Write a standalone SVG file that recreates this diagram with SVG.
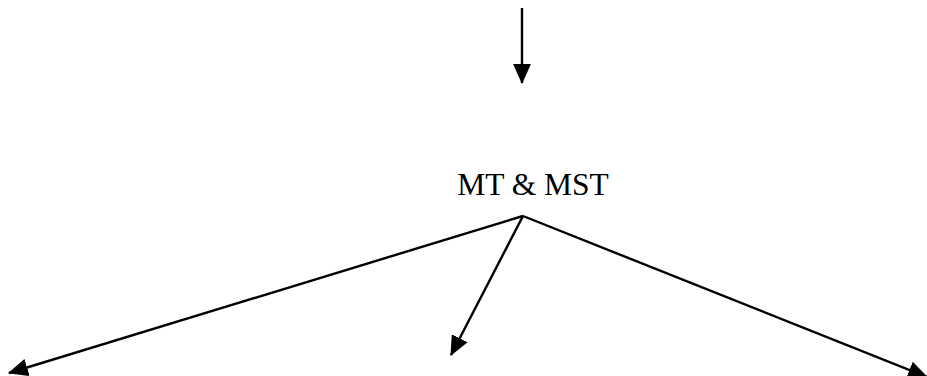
<svg xmlns="http://www.w3.org/2000/svg" width="927" height="376" viewBox="0 0 927 376">
<style>
.edge{stroke:#000;stroke-width:2.4;fill:none;marker-end:url(#ah)}
.lbl{font-family:"Liberation Serif","Times New Roman",serif;font-size:31.5px;fill:#000}
</style>
<defs>
<marker id="ah" markerUnits="userSpaceOnUse" markerWidth="20" markerHeight="20" viewBox="0 0 18 16" refX="17" refY="8" orient="auto">
<path d="M0,0 L18,8 L0,16 Z" fill="#000"/>
</marker>
</defs>
<rect width="927" height="376" fill="#fff"/>
<g id="connectors">
<line class="edge" x1="522" y1="8" x2="522" y2="83"/>
<line class="edge" x1="523" y1="216" x2="9" y2="373"/>
<line class="edge" x1="523" y1="216" x2="451" y2="355"/>
<line class="edge" x1="523" y1="216" x2="927" y2="377"/>
</g>
<g id="node-mt-mst">
<text class="lbl" x="533" y="195" text-anchor="middle">MT &amp; MST</text>
</g>
</svg>
